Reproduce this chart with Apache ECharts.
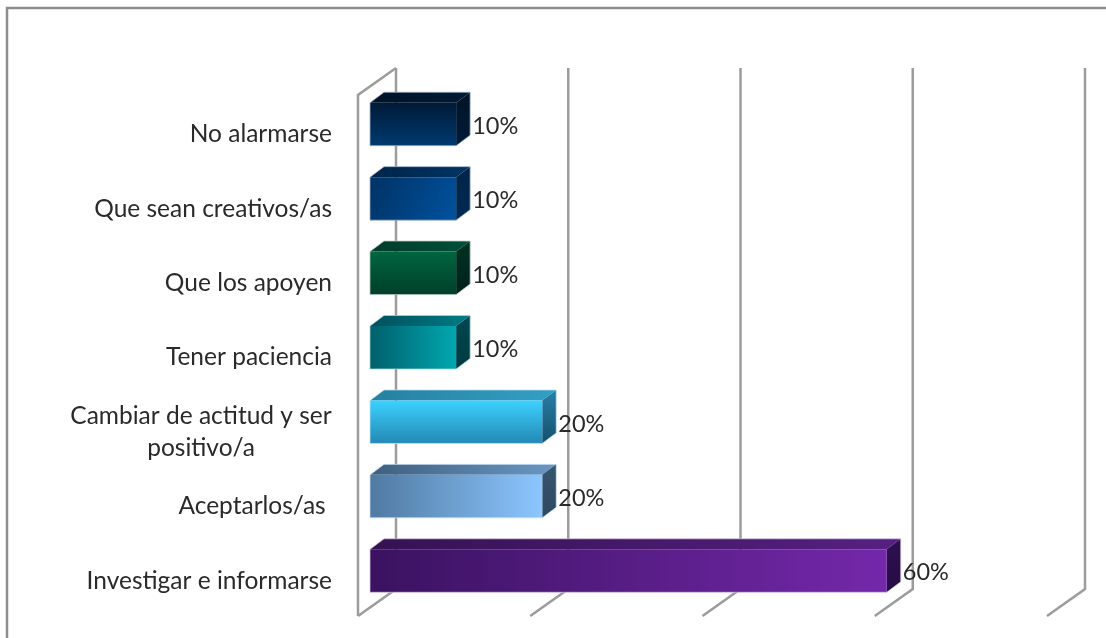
<!DOCTYPE html>
<html>
<head>
<meta charset="utf-8">
<style>html,body{margin:0;padding:0;background:#fff}#chart{width:1106px;height:638px}</style>
<script src="https://cdn.jsdelivr.net/npm/echarts@6/dist/echarts.min.js"></script>
</head>
<body>
<div id="chart"></div>
<script>
// Categories run top to bottom; values are percentages.
const categories = ['No alarmarse', 'Que sean creativos/as', 'Que los apoyen', 'Tener paciencia',
  'Cambiar de actitud y ser\npositivo/a', 'Aceptarlos/as ', 'Investigar e informarse'];
const values = [10, 10, 10, 10, 20, 20, 60];
const axisTicks = [0, 20, 40, 60, 80];

// Face colours per bar: front gradient and direction, top (left to right), side (top to bottom), edge.
const faces = [
  { front: ['#001a36', '#003a70'], dir: 'v', top: ['#001428', '#001a34'], side: ['#001428', '#001c38'], edge: '#a4b6c8' },
  { front: ['#003264', '#00529f'], dir: 'd', top: ['#002448', '#003464'], side: ['#002448', '#002a52'], edge: '#a4b6c8' },
  { front: ['#00663f', '#003f2b'], dir: 'v', top: ['#003c2a', '#00503a'], side: ['#003324', '#00201a'], edge: '#b0c8bf' },
  { front: ['#005f6c', '#00a8b0'], dir: 'h', top: ['#004f5c', '#007c86'], side: ['#004850', '#003a42'], edge: '#a8d6d8' },
  { front: ['#3cd2ff', '#2488b4'], dir: 'v', top: ['#27809f', '#33a0c4'], side: ['#2a80a8', '#14506c'], edge: '#c4e6f6' },
  { front: ['#4f7aa2', '#8cc6ff'], dir: 'h', top: ['#3f5f7e', '#6a98c4'], side: ['#38566f', '#2e4860'], edge: '#cde2f8' },
  { front: ['#3a1260', '#7428aa'], dir: 'h', top: ['#351252', '#562082'], side: ['#2e1050', '#260c44'], edge: '#d4c6e2' }
];

// 3D projection of the chart box: the grid is the front plane.
const DEPTH_X = 38, DEPTH_Y = -27;
const BAR_SHIFT_X = 12, BAR_SHIFT_Y = -8;
const BAR_DEPTH_X = 14, BAR_DEPTH_Y = -10.5;
const BAR_HEIGHT = 43;
const WALL = '#9c9c9c';

function gradient(colors, dir) {
  const end = { v: [0, 1], h: [1, 0], d: [1, 1] }[dir];
  return new echarts.graphic.LinearGradient(0, 0, end[0], end[1],
    [{ offset: 0, color: colors[0] }, { offset: 1, color: colors[1] }]);
}

function renderFrame(params, api) {
  const v = api.value(0);
  const cs = params.coordSys;
  const x = api.coord([v, 0])[0];
  const bottom = cs.y + cs.height, top = cs.y;
  const line = (pts) => ({
    type: 'polyline', shape: { points: pts },
    style: { fill: 'none', stroke: WALL, lineWidth: 2.5 }
  });
  const children = [line([[x, bottom], [x + DEPTH_X, bottom + DEPTH_Y], [x + DEPTH_X, top + DEPTH_Y]])];
  if (v === axisTicks[0]) {
    children.push(line([[x + DEPTH_X, top + DEPTH_Y], [x, top], [x, bottom]]));
  }
  return { type: 'group', children };
}

function renderBar(params, api) {
  const i = api.value(1);
  const f = faces[i];
  const zero = api.coord([0, i]);
  const end = api.coord([api.value(0), i]);
  const l = zero[0] + BAR_SHIFT_X, r = end[0] + BAR_SHIFT_X;
  const t = zero[1] + BAR_SHIFT_Y - BAR_HEIGHT / 2, b = t + BAR_HEIGHT;
  const dx = BAR_DEPTH_X, dy = BAR_DEPTH_Y;
  return {
    type: 'group',
    children: [
      { type: 'polygon', shape: { points: [[l, t], [l + dx, t + dy], [r + dx, t + dy], [r, t]] },
        style: { fill: gradient(f.top, 'h') } },
      { type: 'polygon', shape: { points: [[r, t], [r + dx, t + dy], [r + dx, b + dy], [r, b]] },
        style: { fill: gradient(f.side, 'v') } },
      { type: 'rect', shape: { x: l, y: t, width: r - l, height: b - t },
        style: { fill: gradient(f.front, f.dir) } },
      // Pale outline around the whole box silhouette
      { type: 'polygon',
        shape: { points: [[l, t], [l + dx, t + dy], [r + dx, t + dy], [r + dx, b + dy], [r, b], [l, b]] },
        style: { fill: 'none', stroke: f.edge, lineWidth: 1, opacity: 0.75 } },
      { type: 'text', x: r + dx + 2, y: (t + b) / 2 + 2,
        style: { text: api.value(0) + '%', fill: '#2a2a2a', font: '23.5px Lato', textAlign: 'left', textVerticalAlign: 'middle' } }
    ]
  };
}

const chart = echarts.init(document.getElementById('chart'), null, { renderer: 'canvas' });
chart.setOption({
  animation: false,
  backgroundColor: '#fff',
  graphic: [{
    type: 'polyline', silent: true,
    shape: { points: [[7, 640], [7, 8], [1108, 8]] },
    style: { fill: 'none', stroke: '#8e8e8e', lineWidth: 2.5 }
  }],
  grid: { left: 358, top: 95, width: 689, height: 521 },
  xAxis: {
    type: 'value', min: 0, max: 80, interval: 20,
    axisLabel: { show: false }, axisLine: { show: false }, axisTick: { show: false }, splitLine: { show: false }
  },
  yAxis: {
    type: 'category', inverse: true, data: categories,
    axisLine: { show: false }, axisTick: { show: false },
    axisLabel: {
      margin: 26,
      interval: 0,
      color: '#2a2a2a',
      fontFamily: 'Lato',
      fontSize: 24.5,
      lineHeight: 32,
      padding: [4, 0, 0, 0],
      formatter: (name) => name.includes('\n')
        ? name.split('\n').map(s => '{c|' + s + '}').join('\n')
        : name,
      rich: { c: { width: 262, align: 'center', fontFamily: 'Lato', fontSize: 24.5, lineHeight: 32, color: '#2a2a2a' } }
    }
  },
  series: [
    { type: 'custom', z: 1, clip: false, renderItem: renderFrame, encode: { x: 0, y: 1 },
      data: axisTicks.map(t => [t, 0]) },
    { type: 'custom', z: 2, clip: false, renderItem: renderBar, encode: { x: 0, y: 1 },
      data: values.map((v, i) => [v, i]) }
  ]
});
</script>
</body>
</html>
